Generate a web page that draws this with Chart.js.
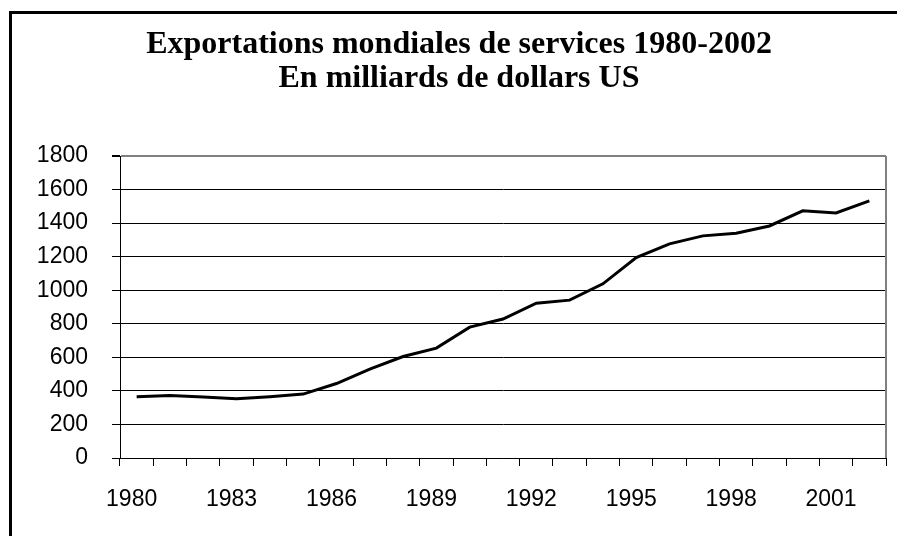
<!DOCTYPE html>
<html>
<head>
<meta charset="utf-8">
<script src="https://cdn.jsdelivr.net/npm/chart.js@4.4.1/dist/chart.umd.min.js"></script>
<style>
  html, body { margin: 0; padding: 0; background: #fff; overflow: hidden; }
  #frame { position: absolute; left: 9px; top: 11px; width: 1000px; height: 700px;
           border-left: 3px solid #000; border-top: 3px solid #000; }
  #chart { position: absolute; left: 0; top: 0; }
</style>
</head>
<body>
<div id="frame"></div>
<canvas id="chart" width="897" height="536"></canvas>
<script>
// years on the category axis
const years = ['1980', '1981', '1982', '1983', '1984', '1985', '1986', '1987', '1988', '1989', '1990', '1991',
               '1992', '1993', '1994', '1995', '1996', '1997', '1998', '1999', '2000', '2001', '2002'];
// world exports of services, billions of US dollars
const exportsValues = [365, 373, 364, 353, 365, 381, 444, 530, 605, 655, 780, 828,
                       923, 941, 1038, 1194, 1276, 1324, 1340, 1383, 1473, 1461, 1533];
// y axis ticks
const yTicks = [0, 200, 400, 600, 800, 1000, 1200, 1400, 1600, 1800];
const titleLines = ['Exportations mondiales de services 1980-2002', 'En milliards de dollars US'];

//draws the grey right edge of the plot area
const plotBorder = {
    id: 'plotBorder',
    afterDatasetsDraw(chart) {
        const {ctx, chartArea} = chart;
        ctx.save();
        ctx.strokeStyle = '#808080';
        ctx.lineWidth = 2;
        ctx.beginPath();
        ctx.moveTo(chartArea.right, chartArea.top);
        ctx.lineTo(chartArea.right, chartArea.bottom);
        ctx.stroke();
        ctx.restore();
    }
};

const axisFont = {family: "'Liberation Sans', Arial, sans-serif", size: 23};

new Chart(document.getElementById('chart').getContext('2d'), {
    type: 'line',
    data: {
        labels: years,
        datasets: [{
            data: exportsValues,
            borderColor: '#000',
            borderWidth: 3,
            pointRadius: 0,
            tension: 0,
            fill: false
        }]
    },
    options: {
        responsive: false,
        animation: false,
        layout: {padding: {left: 32, right: 11, top: 0, bottom: 0}},
        plugins: {
            legend: {display: false},
            tooltip: {enabled: false},
            title: {
                display: true,
                text: titleLines,
                color: '#000',
                font: {family: "'Liberation Serif', 'Times New Roman', serif", size: 32, weight: 'bold', lineHeight: 34 / 32},
                padding: {top: 27.5, bottom: 60.5}
            }
        },
        scales: {
            x: {
                offset: true,
                grid: {offset: true, drawOnChartArea: false, drawTicks: true, tickLength: 8, color: '#000', tickColor: '#000'},
                border: {display: true, color: '#000', width: 1},
                ticks: {
                    autoSkip: false,
                    maxRotation: 0,
                    padding: 20,
                    labelOffset: -5,
                    color: '#000',
                    font: axisFont,
                    callback: (val, i) => (i % 3 === 0 ? years[i] : '')
                },
                afterFit: (scale) => { scale.height = 78; }
            },
            y: {
                min: 0,
                max: 1800,
                afterBuildTicks: (scale) => { scale.ticks = yTicks.map(v => ({value: v})); },
                grid: {
                    tickLength: 8,
                    tickColor: '#000',
                    color: (ctx) => (ctx.tick && ctx.tick.value === 1800 ? '#808080' : '#000'),
                    lineWidth: (ctx) => (ctx.tick && ctx.tick.value === 1800 ? 2 : 1)
                },
                border: {display: true, color: '#000', width: 1},
                ticks: {padding: 24, color: '#000', font: axisFont, callback: (v) => String(v)},
                afterFit: (scale) => { scale.width = 88; }
            }
        }
    },
    plugins: [plotBorder]
});
</script>
</body>
</html>
